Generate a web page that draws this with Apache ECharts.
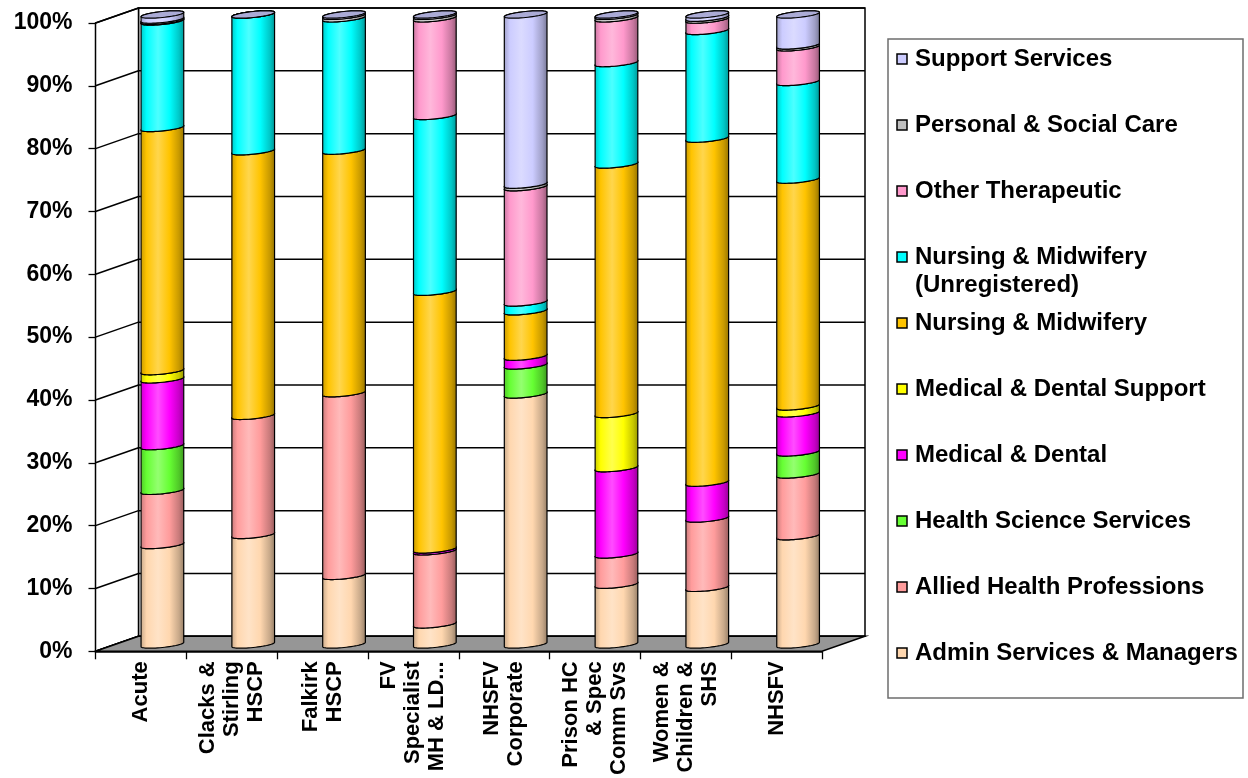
<!DOCTYPE html>
<html>
<head>
<meta charset="utf-8">
<title>Staff group mix by service</title>
<script src="https://cdn.jsdelivr.net/npm/echarts@6/dist/echarts.min.js"></script>
<style>
  html, body { margin: 0; padding: 0; background: #ffffff; }
  #chart { width: 1248px; height: 778px; }
</style>
</head>
<body>
<div id="chart"></div>
<script>
// Services along the category axis
const categories = [
  'Acute',
  'Clacks &\nStirling\nHSCP',
  'Falkirk\nHSCP',
  'FV\nSpecialist\nMH & LD...',
  'NHSFV\nCorporate',
  'Prison HC\n& Spec\nComm Svs',
  'Women &\nChildren &\nSHS',
  'NHSFV'
];

// Percentage axis ticks
const yTicks = [0, 10, 20, 30, 40, 50, 60, 70, 80, 90, 100];

// Share of each staff group (%), one value per service, stacked bottom to top
const adminServices      = [15.8, 17.4, 10.9,  3.2, 39.7,  9.5,  9.0, 17.2];
const alliedHealth       = [ 8.6, 18.9, 29.0, 11.6,  0.0,  4.8, 11.0,  9.8];
const healthScience      = [ 7.1,  0.0,  0.0,  0.0,  4.6,  0.0,  0.0,  3.5];
const medicalDental      = [10.6,  0.0,  0.0,  0.3,  1.4, 13.7,  5.7,  6.2];
const medicalSupport     = [ 1.3,  0.0,  0.0,  0.0,  0.0,  8.6,  0.0,  1.1];
const nursingMidwifery   = [38.6, 42.0, 38.5, 40.9,  7.2, 39.6, 54.6, 36.0];
const nursingUnreg       = [16.9, 21.7, 21.0, 27.9,  1.4, 16.1, 17.1, 15.5];
const otherTherapeutic   = [ 0.1,  0.0,  0.0, 15.5, 18.3,  7.1,  1.8,  5.5];
const personalSocialCare = [ 0.2,  0.0,  0.4,  0.4,  0.4,  0.4,  0.3,  0.3];
const supportServices    = [ 0.8,  0.0,  0.2,  0.2, 27.0,  0.2,  0.5,  4.9];

const seriesNames = [
  'Admin Services & Managers',
  'Allied Health Professions',
  'Health Science Services',
  'Medical & Dental',
  'Medical & Dental Support',
  'Nursing & Midwifery',
  'Nursing & Midwifery\n(Unregistered)',
  'Other Therapeutic',
  'Personal & Social Care',
  'Support Services'
];
const seriesColors = [
  '#FFD7AF', '#FF9C9C', '#66FF33', '#FF00FF', '#FFFF00',
  '#FFC400', '#00FFFF', '#FF99CC', '#C0C0C0', '#CCCCFF'
];
const seriesValues = [
  adminServices, alliedHealth, healthScience, medicalDental, medicalSupport,
  nursingMidwifery, nursingUnreg, otherTherapeutic, personalSocialCare, supportServices
];

const FONT = '"Liberation Sans", Arial, Helvetica, sans-serif';
// Oblique depth of the box: back wall sits up and to the right of the front plane
const DEPTH_X = 43, DEPTH_Y = 15;
const FRONT = { left: 95.5, top: 23, width: 726.5, height: 630 };
// Cross-section ellipse of the cylinders
const SAG = 3, TILT = 2.2, BAR_RATIO = 0.47;

function hexToRgb(h) {
  const n = parseInt(h.slice(1), 16);
  return [(n >> 16) & 255, (n >> 8) & 255, n & 255];
}
function rgbStr(c) { return 'rgb(' + c.map(v => Math.max(0, Math.min(255, Math.round(v)))).join(',') + ')'; }
function shade(h, k) { return rgbStr(hexToRgb(h).map(v => v * k)); }
function tint(h, k) { return rgbStr(hexToRgb(h).map(v => v + (255 - v) * k)); }

function ellipsePt(cx, cy, r, t) {
  return [cx + r * Math.cos(t), cy + SAG * Math.sin(t) - TILT * Math.cos(t)];
}
function arc(cx, cy, r, t0, t1, n) {
  const pts = [];
  for (let i = 0; i <= n; i++) pts.push(ellipsePt(cx, cy, r, t0 + (t1 - t0) * i / n));
  return pts;
}

// Walls, floor and grid lines of the 3D box, placed from the front grid's own scale
function renderBox(params, api) {
  const cs = params.coordSys;
  const x0 = cs.x, x1 = cs.x + cs.width;
  const yBottom = api.coord([0, 0])[1];
  const yTop = api.coord([0, 100])[1];
  const line = { stroke: '#000', lineWidth: 1.5, fill: null };
  const children = [
    { type: 'rect', shape: { x: x0 + DEPTH_X, y: yTop - DEPTH_Y, width: cs.width, height: yBottom - yTop },
      style: { fill: '#fff', stroke: '#000', lineWidth: 1.5 } },
    { type: 'polygon', shape: { points: [[x0, yBottom], [x0, yTop], [x0 + DEPTH_X, yTop - DEPTH_Y], [x0 + DEPTH_X, yBottom - DEPTH_Y]] },
      style: { fill: '#fff', stroke: '#000', lineWidth: 1.5 } }
  ];
  yTicks.forEach(v => {
    const y = api.coord([0, v])[1];
    children.push({ type: 'line', shape: { x1: x0 + DEPTH_X, y1: y - DEPTH_Y, x2: x1 + DEPTH_X, y2: y - DEPTH_Y }, style: line });
    children.push({ type: 'line', shape: { x1: x0, y1: y, x2: x0 + DEPTH_X, y2: y - DEPTH_Y }, style: line });
  });
  children.push({
    type: 'polygon',
    shape: { points: [[x0, yBottom], [x0 + DEPTH_X, yBottom - DEPTH_Y], [x1 + DEPTH_X, yBottom - DEPTH_Y], [x1, yBottom]] },
    style: { fill: '#969696', stroke: '#000', lineWidth: 1.5 }
  });
  return { type: 'group', children: children };
}

// One stacked cylinder segment: shaded body plus an elliptical cap
function makeCylinderRenderer(color, isTop) {
  return function (params, api) {
    const cat = api.value(0), lo = api.value(1), hi = api.value(2), v = api.value(3);
    if (v <= 0 && !isTop) return null;
    const pb = api.coord([cat, lo]);
    const pt = api.coord([cat, hi]);
    const r = api.size([1, 0])[0] * BAR_RATIO / 2;
    const cx = pb[0], yb = pb[1], yt = pt[1];
    const N = 28;
    const pts = []
      .concat(arc(cx, yb, r, 0, Math.PI, N))
      .concat(arc(cx, yt, r, Math.PI, 2 * Math.PI, N));
    const body = {
      type: 'polygon',
      shape: { points: pts },
      style: {
        fill: {
          type: 'linear', x: 0, y: 0, x2: 1, y2: 0,
          colorStops: [
            { offset: 0, color: shade(color, 0.78) },
            { offset: 0.14, color: color },
            { offset: 0.4, color: tint(color, 0.3) },
            { offset: 0.66, color: color },
            { offset: 0.88, color: shade(color, 0.78) },
            { offset: 1, color: shade(color, 0.58) }
          ]
        },
        stroke: '#000', lineWidth: 1.2
      }
    };
    const cap = {
      type: 'polygon',
      shape: { points: arc(cx, yt, r, 0, 2 * Math.PI, 2 * N) },
      style: { fill: shade(color, 0.84), stroke: '#000', lineWidth: 1.2 }
    };
    return { type: 'group', children: [body, cap] };
  };
}

const cylinderSeries = seriesValues.map((vals, s) => {
  const data = vals.map((v, j) => {
    let lo = 0;
    for (let k = 0; k < s; k++) lo += seriesValues[k][j];
    return [j, lo, lo + v, v];
  });
  return {
    type: 'custom',
    name: seriesNames[s],
    xAxisIndex: 1,
    yAxisIndex: 1,
    z: 3,
    silent: true,
    renderItem: makeCylinderRenderer(seriesColors[s], s === seriesValues.length - 1),
    encode: { x: 0, y: [1, 2] },
    data: data
  };
});

// Legend box, top entry is the top of the stack
const LEGEND = { x: 888, y: 39, width: 355, height: 659, firstRow: 59, rowStep: 66 };
const legendGraphics = [{
  type: 'rect',
  shape: { x: LEGEND.x, y: LEGEND.y, width: LEGEND.width, height: LEGEND.height },
  style: { fill: '#fff', stroke: '#6e6e6e', lineWidth: 1.5 },
  z: 10
}];
for (let k = 0; k < seriesNames.length; k++) {
  const s = seriesNames.length - 1 - k;
  const cy = LEGEND.firstRow + LEGEND.rowStep * k;
  legendGraphics.push({
    type: 'rect',
    shape: { x: LEGEND.x + 9, y: cy - 5, width: 10, height: 10 },
    style: { fill: seriesColors[s], stroke: '#000', lineWidth: 1.5 },
    z: 11
  });
  legendGraphics.push({
    type: 'text',
    style: {
      text: seriesNames[s], x: LEGEND.x + 27, y: cy - 14,
      fill: '#000', fontFamily: FONT, fontWeight: 'bold', fontSize: 24,
      lineHeight: 28, verticalAlign: 'top', align: 'left'
    },
    z: 11
  });
}

const chart = echarts.init(document.getElementById('chart'), null, { renderer: 'canvas' });
chart.setOption({
  animation: false,
  backgroundColor: '#ffffff',
  grid: [
    { left: FRONT.left, top: FRONT.top, width: FRONT.width, height: FRONT.height },
    { left: FRONT.left + DEPTH_X / 2, top: FRONT.top - DEPTH_Y / 2 - 1, width: FRONT.width, height: FRONT.height }
  ],
  xAxis: [
    {
      gridIndex: 0, type: 'category', data: categories,
      axisLine: { show: true, lineStyle: { color: '#000', width: 1.5 } },
      axisTick: { show: true, length: 8, lineStyle: { color: '#000', width: 1.3 } },
      axisLabel: {
        rotate: 90, margin: 10, color: '#000', interval: 0,
        fontFamily: FONT, fontWeight: 'bold', fontSize: 22, lineHeight: 24
      }
    },
    { gridIndex: 1, type: 'category', data: categories, show: false }
  ],
  yAxis: [
    {
      gridIndex: 0, type: 'value', min: 0, max: 100, interval: 10,
      axisLine: { show: true, lineStyle: { color: '#000', width: 1.5 } },
      axisTick: { show: true, length: 7, lineStyle: { color: '#000', width: 1.3 } },
      splitLine: { show: false },
      axisLabel: {
        formatter: '{value}%', margin: 23, color: '#000',
        fontFamily: FONT, fontWeight: 'bold', fontSize: 23
      }
    },
    { gridIndex: 1, type: 'value', min: 0, max: 100, show: false }
  ],
  graphic: legendGraphics,
  series: [{
    type: 'custom',
    name: 'box',
    xAxisIndex: 0,
    yAxisIndex: 0,
    z: 1,
    silent: true,
    renderItem: renderBox,
    data: [[0, 0]]
  }].concat(cylinderSeries)
});
</script>
</body>
</html>
